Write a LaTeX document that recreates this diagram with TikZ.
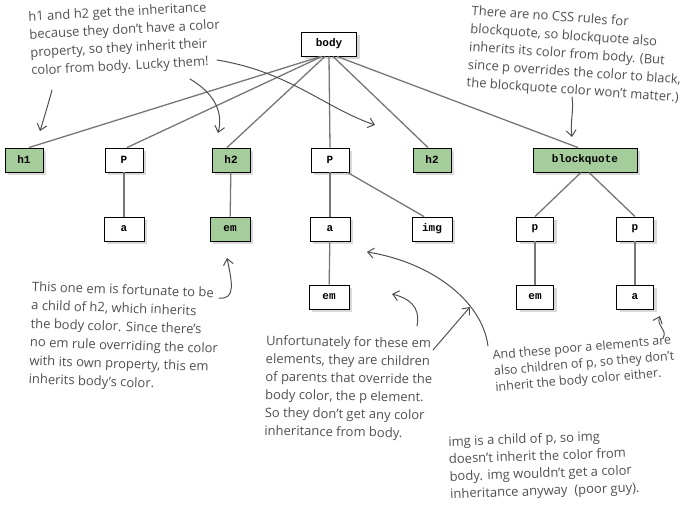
\documentclass[tikz,border=0pt]{standalone}
\usepackage{fontspec}
\setmainfont{Open Sans}
\setmonofont{Liberation Mono}
\usetikzlibrary{arrows.meta,shadows}
\definecolor{boxgreen}{RGB}{165,205,155}
\definecolor{edgegray}{RGB}{118,118,118}
\definecolor{inkgray}{RGB}{80,80,80}
\tikzset{
 tag/.style={draw=black, line width=0.9pt, fill=white, minimum width=38pt, minimum height=24pt, inner sep=2pt,
   font=\ttfamily\bfseries\fontsize{11}{12}\selectfont,
   drop shadow={shadow xshift=3pt, shadow yshift=-3pt, opacity=0.3}},
 greentag/.style={tag, fill=boxgreen},
 rowtwo/.style={minimum width=40pt},
 edge/.style={draw=edgegray, line width=1.3pt},
 note/.style={inkgray, font=\fontsize{13}{18}\selectfont, align=left, inner sep=0pt, anchor=north west},
 pointer/.style={draw=inkgray, line width=1pt, line cap=round, -{Straight Barb[length=6pt,width=10pt]}}
}
\begin{document}
\begin{tikzpicture}[x=1pt,y=-1pt]
\useasboundingbox (0,0) rectangle (686,506);
% nodes
\node[tag, minimum width=55pt] (body) at (329,44) {body};
\node[greentag] (h1) at (24,160) {h1};
\node[tag] (p1) at (124,160) {P};
\node[greentag] (h2a) at (231,160) {h2};
\node[tag] (p2) at (330,160) {P};
\node[greentag] (h2b) at (432,160) {h2};
\node[greentag, minimum width=104pt] (bq) at (585,160) {blockquote};
\node[tag, rowtwo] (a1) at (124,229) {a};
\node[greentag, rowtwo] (em1) at (230,229) {em};
\node[tag, rowtwo] (a2) at (330,229) {a};
\node[tag, rowtwo] (img) at (432,229) {img};
\node[tag, rowtwo, minimum width=37pt] (p3) at (535,229) {p};
\node[tag, rowtwo, minimum width=37pt] (p4) at (635,229) {p};
\node[tag, rowtwo] (em2) at (329,297) {em};
\node[tag, rowtwo, minimum width=37pt] (em3) at (535,297) {em};
\node[tag, rowtwo, minimum width=37pt] (a3) at (635,297) {a};
% tree edges
\draw[edge] ([xshift=-8pt]body.south) -- ([xshift=5pt]h1.north);
\draw[edge] ([xshift=-7pt]body.south) -- ([xshift=3pt]p1.north);
\draw[edge] ([xshift=-4pt]body.south) -- ([xshift=-4pt]h2a.north);
\draw[edge] (body.south) -- (p2.north);
\draw[edge] ([xshift=4pt]body.south) -- ([xshift=-4pt]h2b.north);
\draw[edge] ([xshift=8pt]body.south) -- ([xshift=-7pt]bq.north);
\draw[edge] (p1) -- (a1);
\draw[edge] (h2a) -- (em1);
\draw[edge] (p2) -- (a2);
\draw[edge] ([xshift=-2pt]p2.south east) -- ([xshift=-8pt]img.north);
\draw[edge] (a2) -- (em2);
\draw[edge] ([xshift=-4pt]bq.south) -- (p3.north);
\draw[edge] ([xshift=4pt]bq.south) -- (p4.north);
\draw[edge] (p3) -- (em3);
\draw[edge] (p4) -- (a3);
% notes
\node[note, rotate=3] (n1) at (28,11) {h1 and h2 get the inheritance\\because they don't have a color\\property, so they inherit their\\color from body. Lucky them!};
\node[note, rotate=-4, font=\fontsize{13}{18}\selectfont] (n2) at (472,5) {There are no CSS rules for\\blockquote, so blockquote also\\inherits its color from body. (But\\since p overrides the color to black,\\the blockquote color won't matter.)};
\node[note, rotate=-2, font=\fontsize{13}{18.5}\selectfont] (n3) at (32,281) {This one em is fortunate to be\\a child of h2, which inherits\\the body color. Since there's\\no em rule overriding the color\\with its own property, this em\\inherits body's color.};
\node[note, rotate=-1] (n4) at (266,335) {Unfortunately for these em\\elements, they are children\\of parents that override the\\body color, the p element.\\So they don't get any color\\inheritance from body.};
\node[note, rotate=5, font=\fontsize{12.5}{16}\selectfont] (n5) at (492,350) {And these poor a elements are\\also children of p, so they don't\\inherit the body color either.};
\node[note, rotate=2, font=\fontsize{13}{17.5}\selectfont] (n6) at (448,436) {img is a child of p, so img\\doesn't inherit the color from\\body. img wouldn't get a color\\inheritance anyway \ (poor guy).};
% pointer coordinates
\coordinate (s1) at (52,90);   \coordinate (t1) at (40,131);
\coordinate (s2) at (190,79);  \coordinate (t2) at (218,133);
\coordinate (s3) at (217,60);  \coordinate (t3) at (375,125);
\coordinate (s4) at (219,298); \coordinate (t4) at (227,258);
\coordinate (s5) at (572,97);  \coordinate (t5) at (572,137);
\coordinate (s6) at (417,326); \coordinate (t6) at (392,294);
\coordinate (s7) at (433,350); \coordinate (t7) at (470,307);
\coordinate (s8) at (488,346); \coordinate (t8) at (367,252);
\coordinate (s9) at (663,338); \coordinate (t9) at (660,316);
% pointers
\draw[pointer] (s1) .. controls (48,105) and (44,118) .. (t1);
\draw[pointer] (s2) .. controls (212,92) and (224,110) .. (t2);
\draw[pointer] (s3) .. controls (290,72) and (325,108) .. (t3);
\draw[pointer] (s4) .. controls (236,300) and (232,282) .. (t4);
\draw[pointer] (s5) .. controls (574,110) and (570,122) .. (t5);
\draw[pointer] (s6) .. controls (421,306) and (408,298) .. (t6);
\draw[pointer] (s7) -- (t7);
\draw[pointer] (s8) .. controls (482,300) and (430,262) .. (t8);
\draw[pointer] (s9) .. controls (668,330) and (656,326) .. (t9);
\end{tikzpicture}
\end{document}
